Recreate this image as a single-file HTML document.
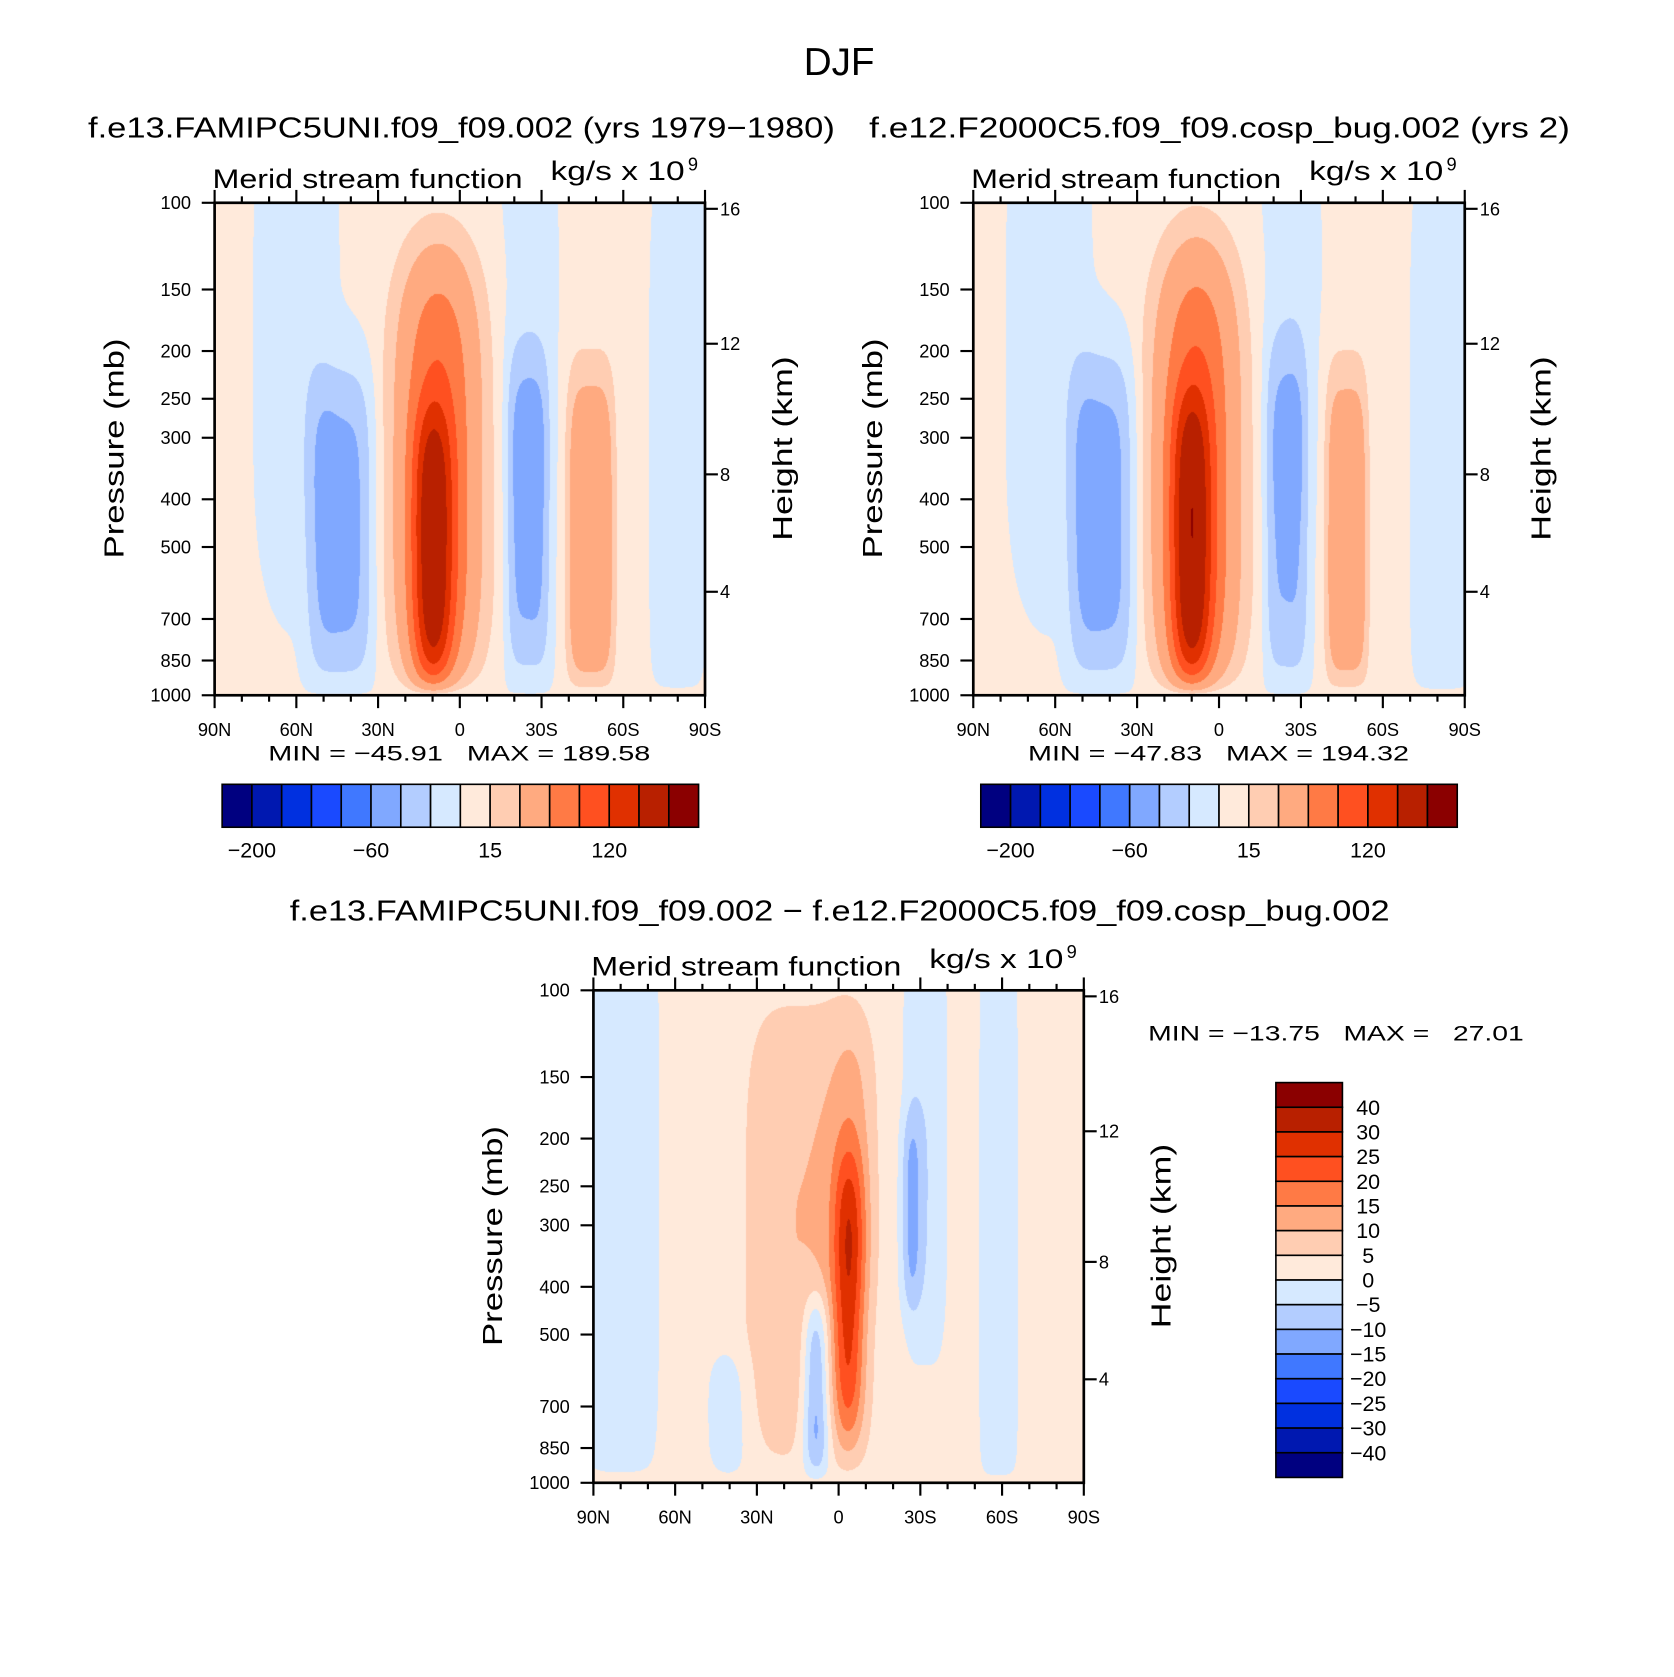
<!DOCTYPE html>
<html><head><meta charset="utf-8">
<style>
html,body{margin:0;padding:0;background:#fff;}
#wrap{position:relative;width:1674px;height:1677px;overflow:hidden;background:#fff;}
canvas{position:absolute;}
svg{position:absolute;left:0;top:0;}
text{font-family:"Liberation Sans",sans-serif;fill:#000;}
</style></head>
<body>
<div id="wrap">
<canvas id="c1"></canvas>
<canvas id="c2"></canvas>
<canvas id="c3"></canvas>
<svg id="svg" width="1674" height="1677" viewBox="0 0 1560 1563" preserveAspectRatio="none">
<text x="782" y="70" font-size="36" text-anchor="middle">DJF</text>
<text x="82" y="128" font-size="27" textLength="696" lengthAdjust="spacingAndGlyphs">f.e13.FAMIPC5UNI.f09_f09.002 (yrs 1979−1980)</text>
<text x="810" y="128" font-size="27" textLength="653" lengthAdjust="spacingAndGlyphs">f.e12.F2000C5.f09_f09.cosp_bug.002 (yrs 2)</text>
<text x="270" y="858" font-size="27" textLength="1025" lengthAdjust="spacingAndGlyphs">f.e13.FAMIPC5UNI.f09_f09.002 − f.e12.F2000C5.f09_f09.cosp_bug.002</text>

<text x="198" y="175" font-size="25" textLength="289" lengthAdjust="spacingAndGlyphs">Merid stream function</text>
<text x="513" y="168" font-size="25" textLength="125" lengthAdjust="spacingAndGlyphs">kg/s x 10</text>
<text x="641" y="159" font-size="17">9</text>
<text x="905" y="175" font-size="25" textLength="289" lengthAdjust="spacingAndGlyphs">Merid stream function</text>
<text x="1220" y="168" font-size="25" textLength="125" lengthAdjust="spacingAndGlyphs">kg/s x 10</text>
<text x="1348" y="159" font-size="17">9</text>
<text x="551" y="909" font-size="25" textLength="289" lengthAdjust="spacingAndGlyphs">Merid stream function</text>
<text x="866" y="902" font-size="25" textLength="125" lengthAdjust="spacingAndGlyphs">kg/s x 10</text>
<text x="994" y="893" font-size="17">9</text>

<text transform="translate(115,418) rotate(-90)" font-size="26" text-anchor="middle" textLength="205" lengthAdjust="spacingAndGlyphs">Pressure (mb)</text>
<text transform="translate(738,418) rotate(-90)" font-size="26" text-anchor="middle" textLength="172" lengthAdjust="spacingAndGlyphs">Height (km)</text>
<text transform="translate(822,418) rotate(-90)" font-size="26" text-anchor="middle" textLength="205" lengthAdjust="spacingAndGlyphs">Pressure (mb)</text>
<text transform="translate(1445,418) rotate(-90)" font-size="26" text-anchor="middle" textLength="172" lengthAdjust="spacingAndGlyphs">Height (km)</text>
<text transform="translate(468,1152) rotate(-90)" font-size="26" text-anchor="middle" textLength="205" lengthAdjust="spacingAndGlyphs">Pressure (mb)</text>
<text transform="translate(1091,1152) rotate(-90)" font-size="26" text-anchor="middle" textLength="172" lengthAdjust="spacingAndGlyphs">Height (km)</text>

<text x="250" y="709" font-size="20" textLength="356" lengthAdjust="spacingAndGlyphs" xml:space="preserve">MIN = −45.91   MAX = 189.58</text>
<text x="958" y="709" font-size="20" textLength="355" lengthAdjust="spacingAndGlyphs" xml:space="preserve">MIN = −47.83   MAX = 194.32</text>
<text x="1070" y="970" font-size="20" textLength="350" lengthAdjust="spacingAndGlyphs" xml:space="preserve">MIN = −13.75   MAX =   27.01</text>
</svg>
</div>
<script>
const S = 1674/1560;
const levelsMain = [-200,-150,-100,-80,-60,-40,-20,0,15,30,60,90,120,150,200];
const levelsDiff = [-40,-30,-25,-20,-15,-10,-5,0,5,10,15,20,25,30,40];
const palette = ["#000080","#0018b0","#0030e0","#1a4aff","#4078ff","#80a8ff","#b3cdff","#d6e9ff","#ffeadb","#ffcdb2","#ffaa80","#ff7a45","#ff5020","#e03000","#b82000","#8b0000"];
const pressureTicks = [100,150,200,250,300,400,500,700,850,1000];
const heightTicks = [4,8,12,16];
const latTicks = [90,60,30,0,-30,-60,-90];
const latTickLabels = ["90N","60N","30N","0","30S","60S","90S"];

// Circulation cells: lat (deg N), normalized log-p centre, amplitude, lat width, vertical width, lat exponent
const p1Lat = [8, 10, 44, 60, -25, -25, -48, -80];
const p1U   = [0.55, 0.72, 0.66, 0.30, 0.63, 0.25, 0.68, 0.50];
const p1Amp = [90, 105, -50, -12, -50, -10, 48, -7];
const p1WL  = [15, 7, 12, 12, 8, 9, 9, 10];
const p1WU  = [0.45, 0.30, 0.33, 0.5, 0.34, 0.4, 0.36, 0.6];
const p1NL  = [2, 2, 4, 2, 4, 2, 4, 4];

const p2Lat = [8, 10, 43, 62, -25, -26, -47, -82];
const p2U   = [0.55, 0.70, 0.64, 0.30, 0.63, 0.25, 0.68, 0.50];
const p2Amp = [92, 108, -52, -12, -45, -12, 46, -8];
const p2WL  = [15, 7, 12, 12, 8, 9, 8, 11];
const p2WU  = [0.46, 0.31, 0.34, 0.5, 0.36, 0.4, 0.36, 0.6];
const p2NL  = [2, 2, 4, 2, 4, 2, 4, 4];

const p3Lat = [-4, 12, -6, 8, -27, -32, -59, 80, 40];
const p3U   = [0.63, 0.5, 0.35, 0.82, 0.45, 0.3, 0.5, 0.4, 0.88];
const p3Amp = [18, 8, 6, -18, -9, -6, -6, -6, -5];
const p3WL  = [6, 22, 8, 5, 4, 8, 7, 14, 8];
const p3WU  = [0.3, 0.47, 0.3, 0.2, 0.2, 0.45, 0.7, 0.7, 0.15];
const p3NL  = [2, 4, 2, 2, 2, 4, 4, 4, 2];

const panels = [
  {id:"c1", key:"panel-1", x:200, y:189, w:457, h:459, lat:p1Lat, u:p1U, amp:p1Amp, wl:p1WL, wu:p1WU, nl:p1NL, bg:2, levels:levelsMain},
  {id:"c2", key:"panel-2", x:907, y:189, w:458, h:459, lat:p2Lat, u:p2U, amp:p2Amp, wl:p2WL, wu:p2WU, nl:p2NL, bg:2, levels:levelsMain},
  {id:"c3", key:"difference", x:553, y:923, w:457, h:459, lat:p3Lat, u:p3U, amp:p3Amp, wl:p3WL, wu:p3WU, nl:p3NL, bg:2, levels:levelsDiff}
];

function hexRgb(h){return [parseInt(h.substr(1,2),16),parseInt(h.substr(3,2),16),parseInt(h.substr(5,2),16)];}
const rgb = palette.map(hexRgb);

function levelIndex(v, lv){let k=0; while(k<lv.length && v>=lv[k]) k++; return k;}

function drawField(P){
  const c = document.getElementById(P.id);
  const W = Math.round(P.w*S), H = Math.round(P.h*S);
  c.width=W; c.height=H;
  c.style.left=(P.x*S)+"px"; c.style.top=(P.y*S)+"px";
  c.style.width=W+"px"; c.style.height=H+"px";
  const ctx=c.getContext("2d");
  const img=ctx.createImageData(W,H);
  for(let j=0;j<H;j++){
    const u=(j+0.5)/H;
    const g=1-Math.exp(-(1-u)/0.03);
    for(let i=0;i<W;i++){
      const lat=90-(i+0.5)/W*180;
      let f=0;
      for(let k=0;k<P.lat.length;k++){
        const a=Math.abs((lat-P.lat[k])/P.wl[k]);
        const b=Math.abs((u-P.u[k])/P.wu[k]);
        f+=P.amp[k]*Math.exp(-Math.pow(a,P.nl[k]))*Math.exp(-Math.pow(b,4));
      }
      const v=P.bg+f*g;
      const col=rgb[levelIndex(v,P.levels)];
      const o=(j*W+i)*4;
      img.data[o]=col[0];img.data[o+1]=col[1];img.data[o+2]=col[2];img.data[o+3]=255;
    }
  }
  ctx.putImageData(img,0,0);
}

const NS="http://www.w3.org/2000/svg";
const svg=document.getElementById("svg");
function el(tag,attrs){const e=document.createElementNS(NS,tag);for(const k in attrs)e.setAttribute(k,attrs[k]);svg.appendChild(e);return e;}

function pY(P,p){return P.y+(Math.log10(p)-2)*P.h;}
function latX(P,lat){return P.x+(90-lat)/180*P.w;}
function heightToP(z){const m=z*1000; if(m<=11000) return 1013.25*Math.pow(1-2.2558e-5*m,5.256); return 226.3*Math.exp(-0.0001577*(m-11000));}

function drawAxes(P){
  const fr=el("rect",{x:P.x,y:P.y,width:P.w,height:P.h,fill:"none",stroke:"#000","stroke-width":2.5});
  
  
  pressureTicks.forEach(p=>{
    const y=pY(P,p);
    const t=el("line",{x1:P.x-12,x2:P.x,y1:y,y2:y,stroke:"#000","stroke-width":2});
    
    
    const l=el("text",{x:P.x-22,y:y+6,"font-size":17,"text-anchor":"end"});
    l.textContent=p;
    
    
  });
  heightTicks.forEach(z=>{
    const y=pY(P,heightToP(z));
    const t=el("line",{x1:P.x+P.w,x2:P.x+P.w+12,y1:y,y2:y,stroke:"#000","stroke-width":2});
    
    
    const l=el("text",{x:P.x+P.w+14,y:y+6,"font-size":17});
    l.textContent=z;
    
    
  });
  for(let lat=90;lat>=-90;lat-=10){
    const x=latX(P,lat);
    const major=(lat%30===0);
    const len=major?12:6;
    const b=el("line",{x1:x,x2:x,y1:P.y+P.h,y2:P.y+P.h+len,stroke:"#000","stroke-width":2});
    
    
    const t=el("line",{x1:x,x2:x,y1:P.y,y2:P.y-len,stroke:"#000","stroke-width":2});
    
    
  }
  latTicks.forEach((lat,i)=>{
    const l=el("text",{x:latX(P,lat),y:P.y+P.h+38,"font-size":17,"text-anchor":"middle"});
    l.textContent=latTickLabels[i];
    
    
  });
}

function hColorbar(x0,y0,w,h,levels,key){
  const bw=w/palette.length;
  palette.forEach((c,i)=>{
    const r=el("rect",{x:x0+i*bw,y:y0,width:bw,height:h,fill:c,stroke:"#000","stroke-width":1.5});
    
    
  });
  levels.forEach((v,i)=>{
    if(i%4!==0) return;
    const l=el("text",{x:x0+(i+1)*bw,y:y0+h+28,"font-size":20,"text-anchor":"middle"});
    l.textContent=String(v).replace("-","−");
    
    
  });
}

function vColorbar(x0,y0,w,h,levels,key){
  const bh=h/palette.length;
  for(let k=0;k<palette.length;k++){
    const r=el("rect",{x:x0,y:y0+k*bh,width:w,height:bh,fill:palette[palette.length-1-k],stroke:"#000","stroke-width":1.5});
    
    
  }
  for(let k=0;k<levels.length;k++){
    const v=levels[levels.length-1-k];
    const l=el("text",{x:x0+w+24,y:y0+(k+1)*bh+7,"font-size":20,"text-anchor":"middle"});
    l.textContent=String(v).replace("-","−");
    
    
  }
}

panels.forEach(P=>{drawField(P);drawAxes(P);});
hColorbar(207,731,444,40,levelsMain,"panel-1");
hColorbar(914,731,444,40,levelsMain,"panel-2");
vColorbar(1189,1009,62,368,levelsDiff,"difference");
</script>
</body></html>
